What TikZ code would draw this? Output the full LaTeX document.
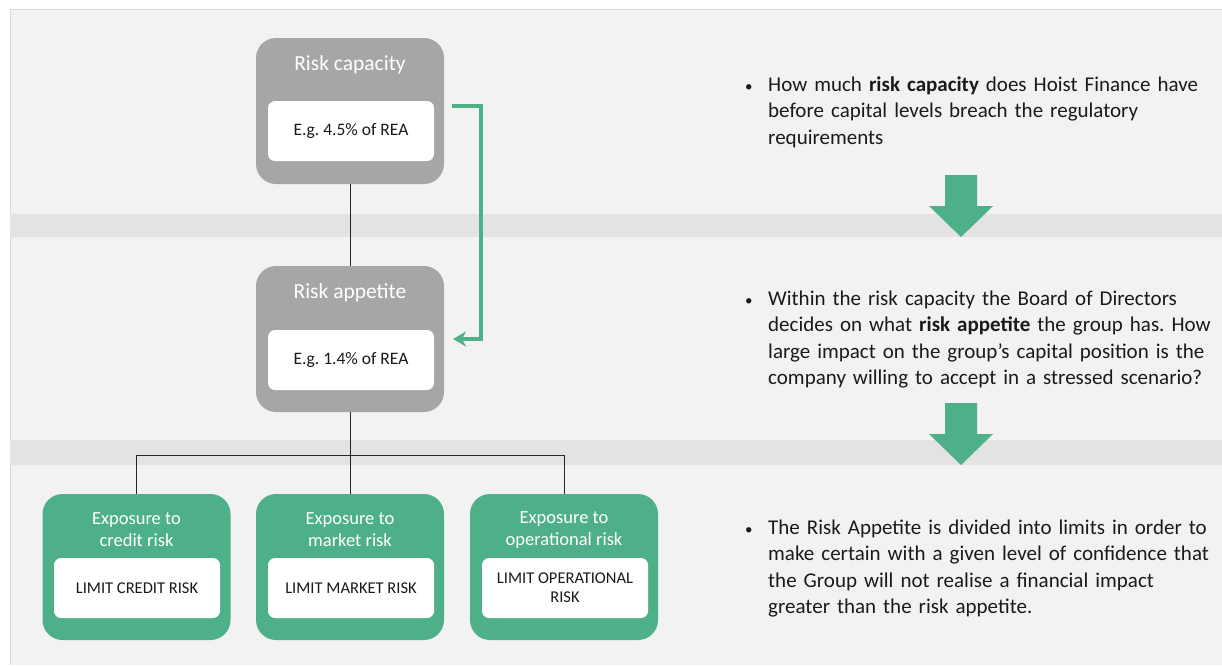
\documentclass[tikz,border=0pt]{standalone}
\usepackage{fontspec}
\setmainfont{Carlito}
\usetikzlibrary{arrows.meta,positioning,calc}
\definecolor{Panel}{HTML}{F2F2F2}
\definecolor{Strip}{HTML}{E3E3E3}
\definecolor{Rim}{HTML}{D9D9D9}
\definecolor{Stone}{HTML}{A6A6A6}
\definecolor{Jade}{HTML}{4EB088}
\definecolor{Ink}{HTML}{1A1A1A}
\newcommand{\notebul}{\llap{\makebox[23pt][l]{\fontsize{15}{15}\selectfont\textbullet}}}
\tikzset{
  riskbox/.style={rounded corners=20pt, minimum width=188pt, minimum height=146pt,
    inner sep=0pt, fill=#1},
  riskbox/.default={Stone},
  valbox/.style={fill=white, rounded corners=7pt, minimum width=166pt, minimum height=60pt,
    inner sep=0pt, align=center, text=Ink, font=\fontsize{17.5}{19}\selectfont\frenchspacing},
  limtxt/.style={font=\fontsize{16.5}{19}\selectfont},
  headtxt/.style={text=white, align=center, inner sep=0pt, font=\fontsize{21.5}{22}\selectfont},
  subhead/.style={font=\fontsize{18.5}{22}\selectfont},
  linkline/.style={draw=black!85, line width=0.9pt},
  bendarr/.style={-{Stealth[length=13pt,width=15pt,inset=4pt]}, line width=4pt, color=Jade},
  notetxt/.style={anchor=base west, inner sep=0pt, text width=450pt, align=left,
    text=Ink, font=\fontsize{21}{26.6}\selectfont\frenchspacing},
}

\begin{document}
\begin{tikzpicture}[x=1pt, y=-1pt]
  \useasboundingbox (0,0) rectangle (1222,665);
  % panels
  \fill[Panel] (10,9) rectangle (1222,665);
  \draw[Rim, line width=0.8pt] (10,665) -- (10,9) -- (1222,9);
  \fill[Strip] (10,214) rectangle (1222,237);
  \fill[Strip] (10,440) rectangle (1222,465);

  % grey boxes
  \node[riskbox] (cap) at (350,111) {};
  \node[headtxt] (captitle) at (350,65) {Risk capacity};
  \node[valbox] (capval) at (351,131) {E.g. 4.5\% of REA};
  \node[riskbox] (app) at (350,339) {};
  \node[headtxt] (apptitle) at (350,293) {Risk appetite};
  \node[valbox] (appval) at (351,360) {E.g. 1.4\% of REA};

  % green boxes
  \node[riskbox=Jade] (credit) at (136.5,567) {};
  \node[headtxt, subhead] (credittitle) at (136.5,530) {Exposure to\\credit risk};
  \node[valbox, limtxt] (creditlim) at (137,588) {LIMIT CREDIT RISK};
  \node[riskbox=Jade] (market) at (350,567) {};
  \node[headtxt, subhead] (markettitle) at (350,530) {Exposure to\\market risk};
  \node[valbox, limtxt] (marketlim) at (351,588) {LIMIT MARKET RISK};
  \node[riskbox=Jade] (oper) at (564,567) {};
  \node[headtxt, subhead] (opertitle) at (564,530) {Exposure to\\operational risk};
  \node[valbox, limtxt] (operlim) at (565,588) {LIMIT OPERATIONAL\\RISK};

  % connectors
  \coordinate (split) at (350,455);
  \draw[linkline] (cap.south) -- (app.north);
  \draw[linkline] (app.south) -- (market.north);
  \draw[linkline] (credit.north) |- (split) -| (oper.north);
  \coordinate (gfrom) at (452,106);
  \coordinate (gto) at (453,339);
  \draw[bendarr] (gfrom) -| +(29,233) -- (gto);

  % block arrows
  \foreach \t in {175,403}
    \fill[Jade] (945,\t) -- (977,\t) -- (977,\t+31) -- (993,\t+31) -- (961,\t+62)
      -- (929,\t+31) -- (945,\t+31) -- cycle;

  % notes
  \node[notetxt] (note1) at (768,91) {\notebul How much \textbf{risk capacity} does Hoist Finance have\newline before capital levels breach the regulatory\newline requirements};
  \node[notetxt] (note2) at (768,305) {\notebul Within the risk capacity the Board of Directors\newline decides on what \textbf{risk appetite} the group has. How\newline large impact on the group’s capital position is the\newline company willing to accept in a stressed scenario?};
  \node[notetxt] (note3) at (768,534) {\notebul The Risk Appetite is divided into limits in order to\newline make certain with a given level of confidence that\newline the Group will not realise a financial impact\newline greater than the risk appetite.};
\end{tikzpicture}
\end{document}
